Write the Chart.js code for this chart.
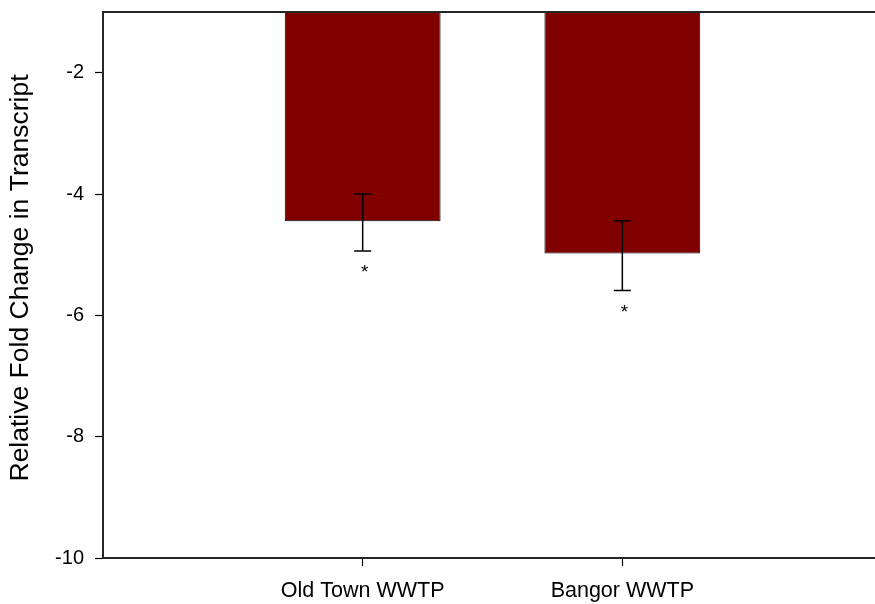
<!DOCTYPE html>
<html>
<head>
<meta charset="utf-8">
<script src="https://cdn.jsdelivr.net/npm/chart.js@4/dist/chart.umd.min.js"></script>
<style>
  html, body { margin: 0; padding: 0; background: #fff; overflow: hidden; }
  #wrap { width: 875px; height: 604px; overflow: hidden; }
  canvas { display: block; }
</style>
</head>
<body>
<div id="wrap"><canvas id="c" width="884" height="604"></canvas></div>
<script>
// Sites and their mean relative fold change
const categories = ['Old Town WWTP', 'Bangor WWTP'];
const foldChange = [-4.45, -4.98];
// Error bar ends (upper and lower)
const errUpper = [-4.00, -4.44];
const errLower = [-4.94, -5.59];
// Significance markers
const sigMarks = ['*', '*'];
// Y axis ticks
const yTicks = [-10, -8, -6, -4, -2];
const yTitle = 'Relative Fold Change in Transcript';

// Empty slots on each side space the two bars across the axis
const labels = [''].concat(categories, ['']);
const values = [null].concat(foldChange, [null]);

const FONT = 'Arial, "Liberation Sans", sans-serif';

const frame = {
  id: 'frame',
  afterDraw(chart) {
    const { ctx, chartArea } = chart;
    ctx.save();
    ctx.strokeStyle = '#262626';
    ctx.lineWidth = 2;
    ctx.beginPath();
    ctx.moveTo(chartArea.left - 1, chartArea.top);
    ctx.lineTo(chartArea.right + 5, chartArea.top);
    ctx.stroke();
    // rotated axis title
    ctx.fillStyle = '#000';
    ctx.font = '26.5px ' + FONT;
    ctx.textAlign = 'center';
    ctx.textBaseline = 'middle';
    ctx.translate(21, (chartArea.top + chartArea.bottom) / 2 - 7);
    ctx.rotate(-Math.PI / 2);
    ctx.fillText(yTitle, 0, 0);
    ctx.restore();
  }
};

const errorBars = {
  id: 'errorBars',
  afterDatasetsDraw(chart) {
    const { ctx } = chart;
    const x = chart.scales.x, y = chart.scales.y;
    ctx.save();
    ctx.strokeStyle = '#000';
    ctx.lineWidth = 1.5;
    categories.forEach((cat, i) => {
      const px = x.getPixelForValue(i + 1);
      const top = y.getPixelForValue(errUpper[i]);
      const bot = y.getPixelForValue(errLower[i]);
      const cap = 8.5;
      ctx.beginPath();
      ctx.moveTo(px, top); ctx.lineTo(px, bot);
      ctx.moveTo(px - cap, top); ctx.lineTo(px + cap, top);
      ctx.moveTo(px - cap, bot); ctx.lineTo(px + cap, bot);
      ctx.stroke();
      ctx.fillStyle = '#000';
      ctx.font = '19px ' + FONT;
      ctx.textAlign = 'center';
      ctx.textBaseline = 'middle';
      ctx.fillText(sigMarks[i], px + 2, bot + 22);
    });
    ctx.restore();
  }
};

new Chart(document.getElementById('c'), {
  type: 'bar',
  data: {
    labels: labels,
    datasets: [{
      data: values,
      backgroundColor: '#800000',
      borderColor: '#000',
      borderWidth: 1,
      borderSkipped: 'start',
      barPercentage: 0.6,
      categoryPercentage: 1
    }]
  },
  options: {
    responsive: false,
    animation: false,
    devicePixelRatio: 1,
    layout: { padding: { left: 0, right: 2, top: 12, bottom: 0 } },
    plugins: { legend: { display: false }, tooltip: { enabled: false } },
    scales: {
      x: {
        type: 'category',
        offset: false,
        grid: {
          offset: false,
          drawOnChartArea: false,
          drawTicks: true,
          tickLength: 8,
          tickWidth: 1.2,
          tickColor: (c) => (labels[c.index] ? '#000' : 'rgba(0,0,0,0)')
        },
        border: { color: '#262626', width: 2 },
        ticks: {
          autoSkip: false,
          maxRotation: 0,
          padding: 12,
          color: '#000',
          font: { family: FONT, size: 21.5 }
        },
        afterFit(s) { s.height = 46; s.paddingLeft = 0; s.paddingRight = 0; }
      },
      y: {
        min: -10,
        max: -1,
        afterBuildTicks(s) { s.ticks = yTicks.map(v => ({ value: v })); },
        grid: {
          drawOnChartArea: false,
          drawTicks: true,
          tickLength: 8,
          tickWidth: 1.2,
          tickColor: '#000'
        },
        border: { color: '#262626', width: 2 },
        ticks: {
          padding: 11,
          color: '#000',
          font: { family: FONT, size: 20 }
        },
        afterFit(s) { s.width = 103; s.paddingTop = 0; s.paddingBottom = 0; }
      }
    }
  },
  plugins: [frame, errorBars]
});
</script>
</body>
</html>
